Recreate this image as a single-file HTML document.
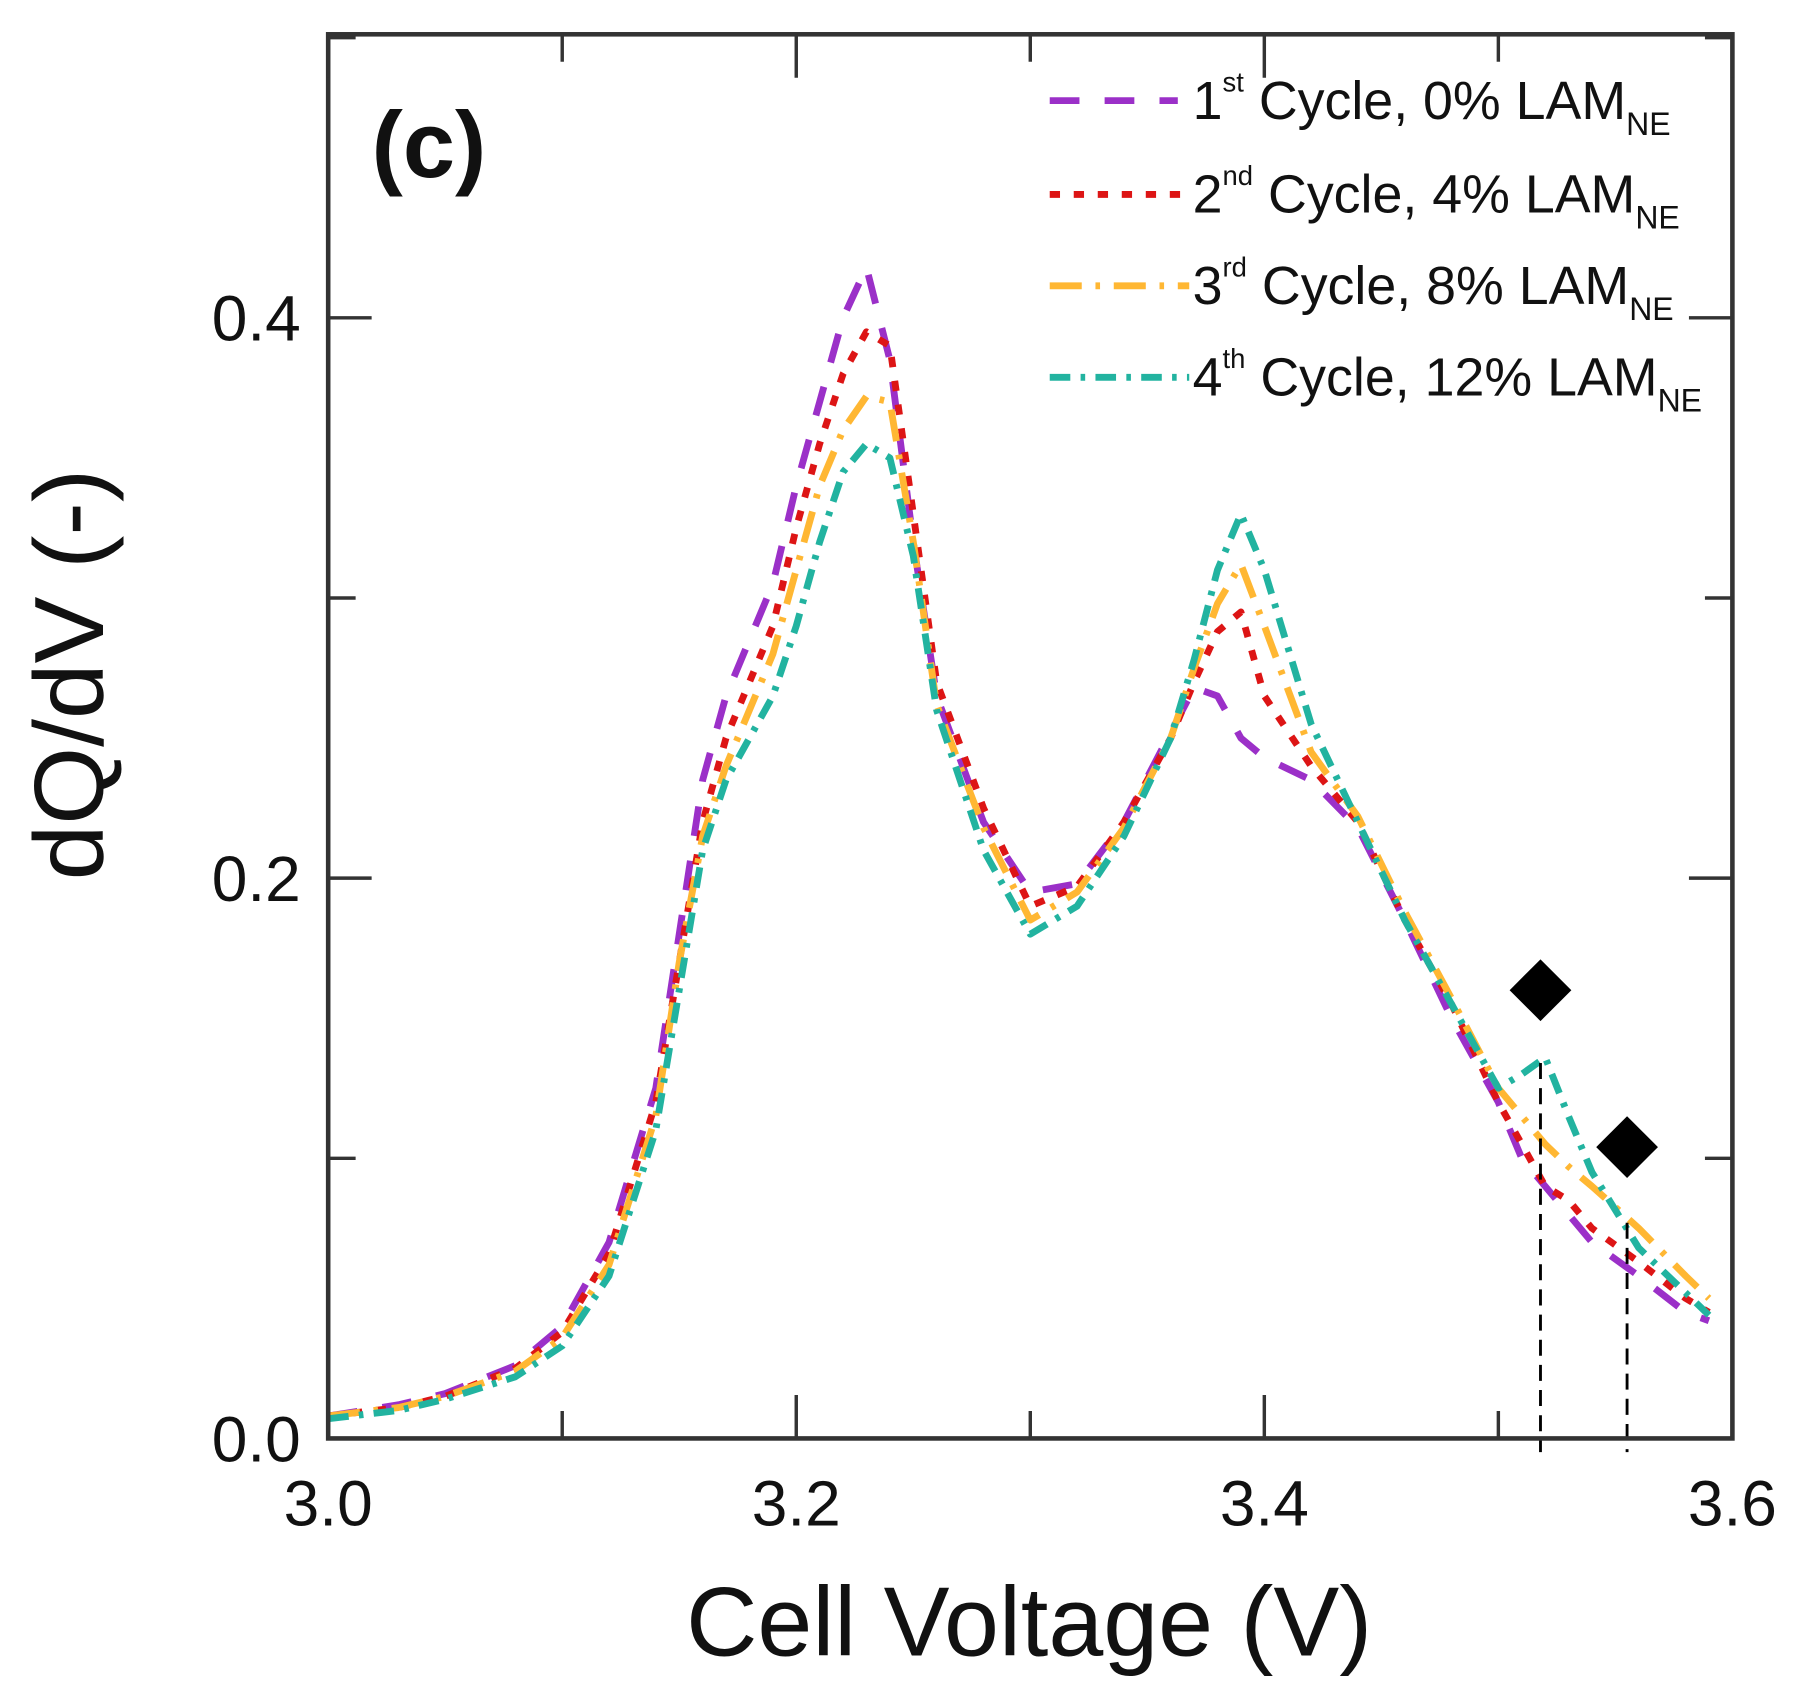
<!DOCTYPE html>
<html><head><meta charset="utf-8">
<style>html,body{margin:0;padding:0;background:#fff}svg{display:block}
text{font-family:"Liberation Sans",Arial,sans-serif;fill:#111}</style></head>
<body>
<svg id="chart" width="1793" height="1706" viewBox="0 0 1568 1492" preserveAspectRatio="none" xmlns="http://www.w3.org/2000/svg">
<g id="marks"></g>
<g id="axes"></g>
<text x="325" y="155" font-size="82" font-weight="bold">(c)</text>
<text x="900" y="1448" font-size="86" text-anchor="middle" textLength="600" lengthAdjust="spacingAndGlyphs">Cell Voltage (V)</text>
<text transform="translate(90,590) rotate(-90)" font-size="86" text-anchor="middle" textLength="360" lengthAdjust="spacingAndGlyphs">dQ/dV (-)</text>
<g font-size="47">
 <g><line x1="918" y1="88" x2="1030" y2="88" stroke="#9b30c8" stroke-width="6" stroke-dasharray="26,22"/><text x="1043" y="104">1<tspan font-size="24" dy="-24">st</tspan><tspan dy="24"> Cycle, 0% LAM</tspan><tspan font-size="28" dy="14">NE</tspan></text></g>
 <g><line x1="918" y1="170" x2="1034" y2="170" stroke="#dd1515" stroke-width="6" stroke-dasharray="9,12"/><text x="1043" y="186">2<tspan font-size="24" dy="-24">nd</tspan><tspan dy="24"> Cycle, 4% LAM</tspan><tspan font-size="28" dy="14">NE</tspan></text></g>
 <g><line x1="918" y1="250" x2="1040" y2="250" stroke="#ffb733" stroke-width="6" stroke-dasharray="28,12,4,12"/><text x="1043" y="266">3<tspan font-size="24" dy="-24">rd</tspan><tspan dy="24"> Cycle, 8% LAM</tspan><tspan font-size="28" dy="14">NE</tspan></text></g>
 <g><line x1="918" y1="330" x2="1040" y2="330" stroke="#22b3a0" stroke-width="6" stroke-dasharray="18,9,4,9"/><text x="1043" y="346">4<tspan font-size="24" dy="-24">th</tspan><tspan dy="24"> Cycle, 12% LAM</tspan><tspan font-size="28" dy="14">NE</tspan></text></g>
</g>
</svg>
<script>
const voltages=[3.0,3.03,3.05,3.08,3.10,3.12,3.14,3.15,3.16,3.17,3.18,3.19,3.20,3.21,3.22,3.23,3.24,3.25,3.26,3.28,3.30,3.32,3.34,3.36,3.37,3.38,3.39,3.40,3.42,3.44,3.46,3.48,3.50,3.51,3.52,3.53,3.54,3.56,3.58,3.59];
const cycle1=[.008,.012,.016,.026,.04,.07,.125,.18,.235,.265,.285,.305,.34,.37,.40,.418,.385,.32,.265,.22,.195,.198,.22,.252,.268,.265,.25,.243,.235,.218,.185,.15,.12,.1,.09,.08,.07,.058,.045,.042];
const cycle2=[.008,.011,.015,.025,.038,.066,.12,.17,.22,.25,.27,.29,.325,.355,.38,.395,.39,.33,.27,.225,.19,.197,.22,.25,.27,.288,.295,.265,.24,.22,.185,.155,.12,.105,.09,.085,.075,.063,.05,.045];
const cycle3=[.008,.011,.015,.024,.036,.062,.115,.17,.215,.24,.26,.28,.31,.34,.36,.372,.37,.32,.262,.218,.185,.195,.218,.25,.275,.298,.312,.29,.245,.222,.188,.157,.125,.115,.105,.097,.09,.075,.058,.05];
const cycle4=[.007,.01,.014,.022,.033,.058,.11,.16,.21,.235,.25,.265,.29,.32,.345,.355,.35,.315,.26,.21,.18,.19,.215,.25,.278,.31,.33,.31,.255,.22,.185,.155,.125,.13,.136,.115,.095,.068,.052,.044];
const xTicks=[3.0,3.2,3.4,3.6];
const xTickLabels=["3.0","3.2","3.4","3.6"];
const yTicks=[0.0,0.2,0.4];
const yTickLabels=["0.0","0.2","0.4"];
const markerVoltages=[3.518,3.555];
const markerValues=[0.16,0.104];
const markerLineTops=[0.134,0.077];

const L=287,R=1515,T=30,B=1258,X0=3.0,X1=3.6,Y0=0,Y1=0.5012;
const sx=v=>L+(v-X0)/(X1-X0)*(R-L);
const sy=v=>B-(v-Y0)/(Y1-Y0)*(B-T);
const NS="http://www.w3.org/2000/svg";
const marks=document.getElementById('marks'),axes=document.getElementById('axes');
function mk(tag,attrs,parent){const e=document.createElementNS(NS,tag);for(const k in attrs)e.setAttribute(k,attrs[k]);parent.appendChild(e);return e;}
const series=[[cycle1,'#9b30c8','26,22','series-cycle-1'],[cycle2,'#dd1515','9,12','series-cycle-2'],[cycle3,'#ffb733','28,12,4,12','series-cycle-3'],[cycle4,'#22b3a0','18,9,4,9','series-cycle-4']];
series.forEach(s=>{
  const d=s[0].map((v,i)=>(i?'L':'M')+sx(voltages[i]).toFixed(1)+','+sy(v).toFixed(1)).join('');
  const p=mk('path',{d:d,fill:'none',stroke:s[1],'stroke-width':6,'stroke-dasharray':s[2],'stroke-linejoin':'round'},marks);
  
  
});
markerVoltages.forEach((v,i)=>{
  const x=sx(v),y=sy(markerValues[i]);
  const ln=mk('line',{x1:x,y1:sy(markerLineTops[i]),x2:x,y2:B+12,stroke:'#000','stroke-width':2.5,'stroke-dasharray':'14,8'},marks);
  
  
  const dm=mk('polygon',{points:`${x},${y-27} ${x+27},${y} ${x},${y+27} ${x-27},${y}`,fill:'#000'},marks);
  
  
});
const fr=mk('rect',{x:L,y:T,width:R-L,height:B-T,fill:'none',stroke:'#333','stroke-width':4},axes);


for(let v=3.0;v<=3.6001;v+=0.1){
  const x=sx(v),major=Math.round(v*10)%2===0,len=major?38:24;
  mk('line',{x1:x,y1:B,x2:x,y2:B-len,stroke:'#333','stroke-width':3},axes);
  mk('line',{x1:x,y1:T,x2:x,y2:T+len,stroke:'#333','stroke-width':3},axes);
}
for(let v=0;v<=0.5001;v+=0.1){
  const y=sy(v),major=Math.round(v*10)%2===0,len=major?38:24;
  mk('line',{x1:L,y1:y,x2:L+len,y2:y,stroke:'#333','stroke-width':3},axes);
  mk('line',{x1:R,y1:y,x2:R-len,y2:y,stroke:'#333','stroke-width':3},axes);
}
xTicks.forEach((v,i)=>{
  const t=mk('text',{x:sx(v),y:B+76,'font-size':56,'text-anchor':'middle'},axes);
  t.textContent=xTickLabels[i];
  
  
});
yTicks.forEach((v,i)=>{
  const t=mk('text',{x:L-24,y:sy(v)+20,'font-size':56,'text-anchor':'end'},axes);
  t.textContent=yTickLabels[i];
  
  
});
</script>
</body></html>
